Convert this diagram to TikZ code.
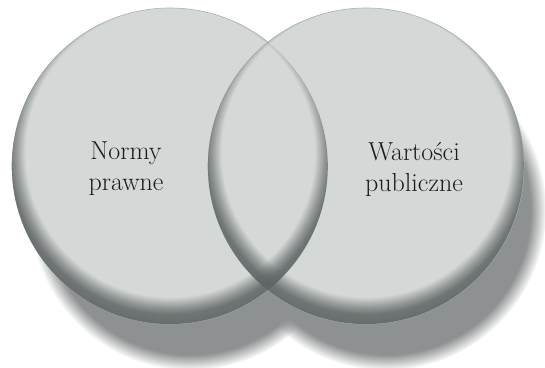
\documentclass[tikz,border=0pt]{standalone}
\usepackage{fontspec}
\usepackage{xcolor}
\usepackage{tikz}
\usetikzlibrary{fadings,positioning}

\definecolor{facegray}{HTML}{D4D8D7}
\definecolor{rimgray}{HTML}{5E6363}
\definecolor{shadegray}{HTML}{8D9191}
\definecolor{labelink}{HTML}{1C1C1C}

% bevel at the edge of a disc, heavier at the bottom
\pgfdeclareradialshading{rimshading}{\pgfpoint{0bp}{4bp}}{color(0bp)=(black); color(22.8bp)=(black); color(24.3bp)=(black!45); color(25.3bp)=(black!15); color(27.5bp)=(black!5); color(50bp)=(black!5)}
\pgfdeclarefading{rimfade}{\pgfuseshading{rimshading}}
% soft drop shadow
\pgfdeclareradialshading{shadeshading}{\pgfpointorigin}{color(0bp)=(white); color(22.5bp)=(white); color(25bp)=(black); color(50bp)=(black)}
\pgfdeclarefading{shadefade}{\pgfuseshading{shadeshading}}

\begin{document}
\begin{tikzpicture}[
    x=1pt, y=1pt,
    disc/.style={circle, fill=facegray, draw=rimgray!50, line width=0.6pt, minimum size=316pt, inner sep=0pt},
    discrim/.style={fill=rimgray, path fading=rimfade},
    discshadow/.style={fill=shadegray, path fading=shadefade},
    disclabel/.style={align=center, text=labelink, inner sep=0pt, font=\fontsize{26}{31}\selectfont}
]
    \useasboundingbox (0,0) rectangle (545,367);

    \coordinate (c1) at (170,201);
    \coordinate (c2) at (366,201);

    \fill [discshadow] ([shift={(20,-44)}]c1) circle (160);
    \fill [discshadow] ([shift={(20,-44)}]c2) circle (160);

    \node [disc] (n1) at (c1) {};
    \node [disc] (n2) at (c2) {};

    \fill [discrim] (n1.center) circle (158);
    \fill [discrim] (n2.center) circle (158);

    \node [disclabel] (l1) at (126,198) {Normy\\prawne};
    \node [disclabel] (l2) at (414,198) {Wartości\\publiczne};
\end{tikzpicture}
\end{document}
